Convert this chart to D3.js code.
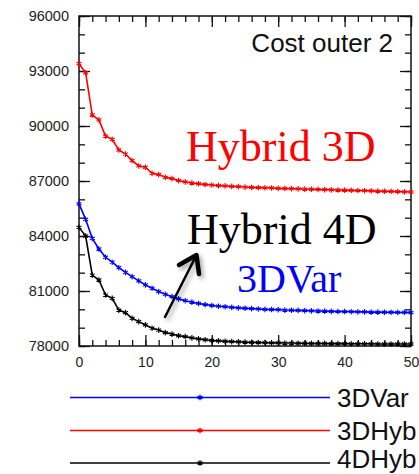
<!DOCTYPE html>
<html>
<head>
<meta charset="utf-8">
<script src="https://cdn.jsdelivr.net/npm/d3@7"></script>
<style>
  html, body { margin: 0; padding: 0; background: #fff; }
  svg { display: block; }
</style>
</head>
<body>
<svg id="chart" width="419" height="474"></svg>
<script>
// ---- data ----
const iterations = d3.range(0, 51);
const var3d = [85750,84910,83870,83290,82840,82570,82270,82020,81780,81550,
  81330,81150,80970,80820,80690,80570,80470,80390,80320,80260,
  80210,80170,80140,80110,80080,80060,80040,80020,80000,79990,
  79980,79960,79950,79940,79930,79920,79910,79900,79890,79880,
  79880,79870,79860,79860,79850,79850,79840,79840,79830,79830,79820];
const hyb3d = [93400,92900,90600,90330,89450,89270,88690,88470,88110,87820,
  87750,87420,87350,87200,87130,87020,86950,86890,86850,86810,
  86780,86750,86730,86710,86690,86670,86650,86640,86630,86620,
  86600,86590,86580,86570,86560,86550,86540,86530,86520,86510,
  86500,86490,86480,86470,86460,86450,86440,86430,86420,86410,86400];
const hyb4d = [84470,84000,81870,81600,80780,80600,79960,79820,79510,79330,
  79150,78970,78870,78730,78650,78560,78510,78440,78390,78340,
  78300,78280,78260,78240,78230,78210,78200,78190,78180,78170,
  78170,78160,78160,78150,78150,78140,78140,78140,78130,78130,
  78130,78120,78120,78120,78120,78110,78110,78110,78110,78110,78110];
const seriesNames = ["3DVar", "3DHyb", "4DHyb"];
const seriesColors = ["#0000ff", "#ff0000", "#000000"];
const yTickValues = [78000, 81000, 84000, 87000, 90000, 93000, 96000];
const xTickValues = [0, 10, 20, 30, 40, 50];
const title = "Cost outer 2";
const annotations = [
  {text: "Hybrid 3D", color: "#ff0000"},
  {text: "Hybrid 4D", color: "#000000"},
  {text: "3DVar", color: "#0000ff"}
];

// ---- drawing ----
const svg = d3.select("#chart");
const x = d3.scaleLinear().domain([0, 50]).range([79, 411]);
const y = d3.scaleLinear().domain([78000, 96000]).range([346, 16]);
const minorX = d3.range(0, 51, 2);
const minorY = d3.range(78000, 96001, 1000);

function styleAxis(g) {
  g.select(".domain").remove();
  g.selectAll("line").attr("stroke", "#111").attr("stroke-width", 1.3);
  g.selectAll("text").attr("fill", "#222")
    .attr("font-family", "Liberation Sans, Arial, sans-serif");
}

// minor ticks
svg.append("g").attr("transform", `translate(${x(0)},0)`)
  .call(d3.axisLeft(y).tickValues(minorY).tickSize(-6).tickFormat("")).call(styleAxis);
svg.append("g").attr("transform", `translate(${x(50)},0)`)
  .call(d3.axisRight(y).tickValues(minorY).tickSize(-6).tickFormat("")).call(styleAxis);
svg.append("g").attr("transform", `translate(0,${y(96000)})`)
  .call(d3.axisTop(x).tickValues(minorX).tickSize(-6).tickFormat("")).call(styleAxis);
svg.append("g").attr("transform", `translate(0,${y(78000)})`)
  .call(d3.axisBottom(x).tickValues(minorX).tickSize(-6).tickFormat("")).call(styleAxis);

// major ticks
svg.append("g").attr("transform", `translate(${x(0)},0)`)
  .call(d3.axisLeft(y).tickValues(yTickValues).tickSize(-11).tickPadding(10).tickFormat(d3.format("d")))
  .call(styleAxis).call(g => g.selectAll("text").attr("font-size", 14.5));
svg.append("g").attr("transform", `translate(${x(50)},0)`)
  .call(d3.axisRight(y).tickValues(yTickValues).tickSize(-11).tickFormat("")).call(styleAxis);
svg.append("g").attr("transform", `translate(0,${y(96000)})`)
  .call(d3.axisTop(x).tickValues(xTickValues).tickSize(-11).tickFormat("")).call(styleAxis);
svg.append("g").attr("transform", `translate(0,${y(78000)})`)
  .call(d3.axisBottom(x).tickValues(xTickValues).tickSize(-11).tickPadding(11).tickFormat(d3.format("d")))
  .call(styleAxis).call(g => g.selectAll("text").attr("font-size", 14));

// frame
svg.append("rect")
  .attr("x", x(0)).attr("y", y(96000))
  .attr("width", x(50) - x(0)).attr("height", y(78000) - y(96000))
  .attr("fill", "none").attr("stroke", "#111").attr("stroke-width", 1.5);

// series
const allSeries = [var3d, hyb3d, hyb4d];
const line = d3.line().x((d, i) => x(iterations[i])).y(d => y(d));
const asterisk = d3.symbol().type(d3.symbolAsterisk).size(22);
allSeries.forEach((vals, k) => {
  const g = svg.append("g");
  g.append("path").datum(vals).attr("d", line)
    .attr("fill", "none").attr("stroke", seriesColors[k]).attr("stroke-width", 1.6);
  g.selectAll("path.m").data(vals).join("path").attr("class", "m")
    .attr("transform", (d, i) => `translate(${x(iterations[i])},${y(d)})`)
    .attr("d", asterisk).attr("fill", "none")
    .attr("stroke", seriesColors[k]).attr("stroke-width", 1.1);
});

// title
svg.append("text").attr("x", 393).attr("y", 52).attr("text-anchor", "end")
  .attr("font-family", "Liberation Sans, Arial, sans-serif").attr("font-size", 26)
  .attr("fill", "#111").text(title);

// annotations
const annPos = [{x: 186, y: 161, size: 44}, {x: 187, y: 244, size: 44}, {x: 237, y: 292, size: 40}];
annotations.forEach((a, i) => {
  svg.append("text").attr("x", annPos[i].x).attr("y", annPos[i].y)
    .attr("font-family", "Liberation Serif, Times New Roman, serif")
    .attr("font-size", annPos[i].size).attr("fill", a.color).text(a.text);
});

// arrow with shadow
const defs = svg.append("defs");
const f = defs.append("filter").attr("id", "shadow").attr("x", "-50%").attr("y", "-50%")
  .attr("width", "200%").attr("height", "200%");
f.append("feDropShadow").attr("dx", 2.5).attr("dy", 3).attr("stdDeviation", 2)
  .attr("flood-color", "#000").attr("flood-opacity", 0.35);
const arrow = svg.append("g").attr("filter", "url(#shadow)")
  .attr("stroke", "#000").attr("fill", "none").attr("stroke-linecap", "round").attr("stroke-linejoin", "round");
arrow.append("line").attr("x1", 165).attr("y1", 317).attr("x2", 196).attr("y2", 256).attr("stroke-width", 2.5);
arrow.append("path").attr("d", "M179,265 L196.5,255 L199,274").attr("stroke-width", 4.5);

// legend
const legY = [397.5, 430.5, 463];
const legTextY = [406.8, 439.8, 467.5];
seriesNames.forEach((name, k) => {
  const g = svg.append("g");
  g.append("line").attr("x1", 70).attr("x2", 330).attr("y1", legY[k]).attr("y2", legY[k])
    .attr("stroke", seriesColors[k]).attr("stroke-width", 1.3);
  g.append("path").attr("transform", `translate(200,${legY[k]})`).attr("d", asterisk)
    .attr("fill", "none").attr("stroke", seriesColors[k]).attr("stroke-width", 1.3);
  g.append("text").attr("x", 337).attr("y", legTextY[k])
    .attr("font-family", "Liberation Sans, Arial, sans-serif").attr("font-size", 26)
    .attr("fill", "#111").text(name);
});
</script>
</body>
</html>
